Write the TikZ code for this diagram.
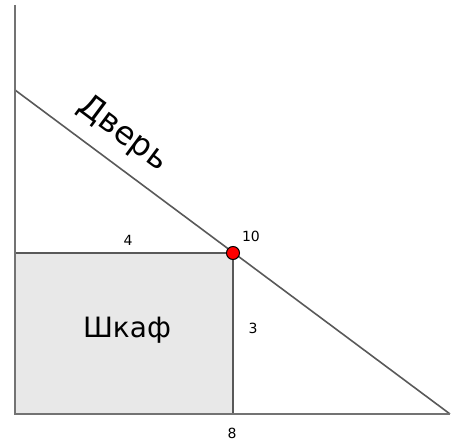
\documentclass[tikz,border=0pt]{standalone}
\usepackage{fontspec}
\setmainfont{DejaVu Sans}
\begin{document}
\begin{tikzpicture}[x=1pt,y=-1pt,
  edge/.style={draw=black!65,line width=1.6pt},
  axis/.style={draw=black!55,line width=2pt},
  lab/.style={font=\fontsize{14}{16}\selectfont},
  big/.style={font=\fontsize{28}{34}\selectfont}]
\useasboundingbox (0,0) rectangle (451,441);
\coordinate (top) at (15,5);
\coordinate (o) at (15,414);
\coordinate (r) at (450,414);
\coordinate (d) at (15,90);
\coordinate (b) at (233,414);
\coordinate (c) at (15,253);
\fill[black!9] (c) rectangle (b);
\draw[edge] (c) -- (233,253) -- (b);
\draw[edge] (d) -- (r);
\draw[axis] (top) -- (o) -- (r);
\node[circle,fill=red,draw=black,line width=1pt,inner sep=0pt,minimum size=13pt] (p) at (233,253) {};
\node[lab] (l4) at (128,240) {4};
\node[lab] (l10) at (251,236) {10};
\node[lab] (l3) at (253,328) {3};
\node[lab] (l8) at (232,433) {8};
\node[big] (sh) at (127,330) {Шкаф};
\node[font=\fontsize{32}{38}\selectfont,rotate=-36.7] (dv) at (123,134) {Дверь};
\end{tikzpicture}
\end{document}
